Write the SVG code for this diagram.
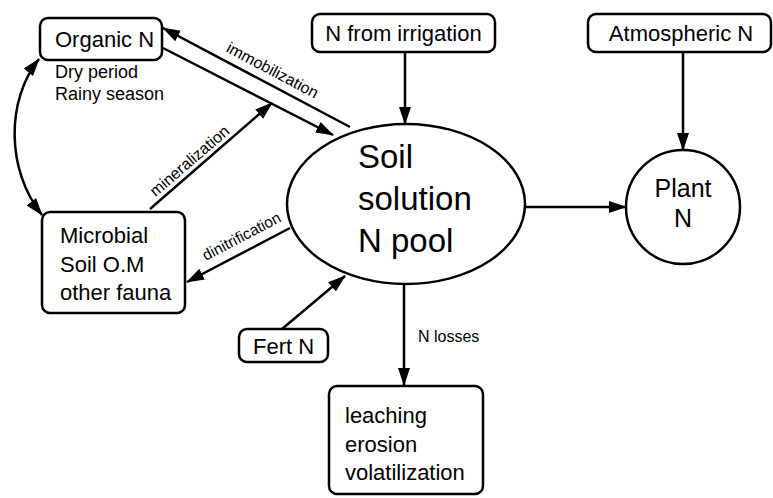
<svg xmlns="http://www.w3.org/2000/svg" width="773" height="498" viewBox="0 0 773 498">
<style>
.box{fill:#fff;stroke:#000;stroke-width:2.5}
.t{font-family:"Liberation Sans",Arial,sans-serif;fill:#000}
.c{stroke:#000;stroke-width:2.5;fill:none}
</style>
<defs>
<marker id="ah" markerUnits="userSpaceOnUse" markerWidth="18" markerHeight="14" refX="17" refY="7" orient="auto-start-reverse" viewBox="0 0 18 14">
<path d="M0,1 L18,7 L0,13 z" fill="#000"/>
</marker>
</defs>
<rect width="773" height="498" fill="#fff"/>

<g id="organic">
<rect class="box" x="40" y="18" width="122" height="42" rx="8"/>
<text class="t" x="55" y="47" font-size="22">Organic N</text>
<text class="t" x="55" y="78" font-size="18">Dry period</text>
<text class="t" x="55" y="100" font-size="18">Rainy season</text>
</g>

<g id="irrigation">
<rect class="box" x="312" y="14" width="183" height="38" rx="8"/>
<text class="t" x="403.5" y="41" font-size="22" text-anchor="middle">N from irrigation</text>
</g>

<g id="atmospheric">
<rect class="box" x="588" y="14" width="183" height="38" rx="8"/>
<text class="t" x="681" y="41" font-size="22" text-anchor="middle">Atmospheric N</text>
</g>

<g id="soil">
<ellipse class="box" cx="406" cy="204" rx="119" ry="80"/>
<text class="t" x="358" y="168" font-size="33">Soil</text>
<text class="t" x="358" y="210" font-size="33">solution</text>
<text class="t" x="358" y="252" font-size="33">N pool</text>
</g>

<g id="plant">
<circle class="box" cx="683" cy="207" r="57"/>
<text class="t" x="683" y="197" font-size="25" text-anchor="middle">Plant</text>
<text class="t" x="683" y="227" font-size="25" text-anchor="middle">N</text>
</g>

<g id="microbial">
<rect class="box" x="42" y="212" width="143" height="101" rx="8"/>
<text class="t" x="60" y="243" font-size="22">Microbial</text>
<text class="t" x="60" y="272" font-size="22">Soil O.M</text>
<text class="t" x="60" y="300" font-size="22">other fauna</text>
</g>

<g id="fert">
<rect class="box" x="239" y="329" width="89" height="33" rx="8"/>
<text class="t" x="253" y="354" font-size="22">Fert N</text>
</g>

<g id="losses">
<rect class="box" x="329" y="386" width="154" height="108" rx="8"/>
<text class="t" x="345" y="423" font-size="22">leaching</text>
<text class="t" x="345" y="452" font-size="22">erosion</text>
<text class="t" x="345" y="480" font-size="22">volatilization</text>
</g>

<g id="connectors">
<path class="c" d="M39,59 C6,100 6,170 42,215" marker-start="url(#ah)" marker-end="url(#ah)"/>
<line class="c" x1="350" y1="127" x2="163" y2="28" marker-end="url(#ah)"/>
<line class="c" x1="163" y1="48" x2="333" y2="135" marker-end="url(#ah)"/>
<line class="c" x1="150" y1="209" x2="272" y2="103" marker-end="url(#ah)"/>
<line class="c" x1="290" y1="228" x2="187" y2="282" marker-end="url(#ah)"/>
<line class="c" x1="282" y1="329" x2="345" y2="276" marker-end="url(#ah)"/>
<line class="c" x1="405" y1="52" x2="405" y2="124" marker-end="url(#ah)"/>
<line class="c" x1="683" y1="52" x2="683" y2="150" marker-end="url(#ah)"/>
<line class="c" x1="525" y1="207" x2="626" y2="207" marker-end="url(#ah)"/>
<line class="c" x1="404" y1="284" x2="404" y2="385" marker-end="url(#ah)"/>
<text class="t" font-size="16" text-anchor="middle" transform="translate(270,75) rotate(27.9)">immobilization</text>
<text class="t" font-size="16" text-anchor="middle" transform="translate(193,165) rotate(-40.7)">mineralization</text>
<text class="t" font-size="15.5" text-anchor="middle" transform="translate(244,241) rotate(-27.7)">dinitrification</text>
<text class="t" x="418" y="342" font-size="16">N losses</text>
</g>
</svg>
